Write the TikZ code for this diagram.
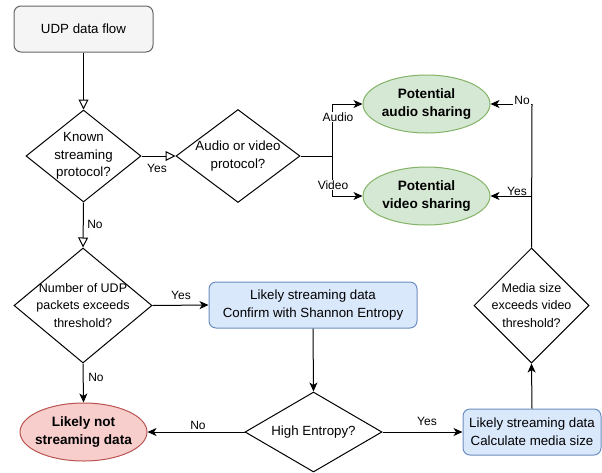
\documentclass[tikz,border=0pt]{standalone}
\usepackage{fontspec}
\setmainfont{Liberation Sans}
\usetikzlibrary{arrows.meta,shapes.geometric}
\definecolor{gfill}{HTML}{D5E8D4}\definecolor{gline}{HTML}{82B366}
\definecolor{bfill}{HTML}{DAE8FC}\definecolor{bline}{HTML}{6C8EBF}
\definecolor{rfill}{HTML}{F8CECC}\definecolor{rline}{HTML}{B85450}
\definecolor{sfill}{HTML}{F5F5F5}\definecolor{sline}{HTML}{666666}
\tikzset{
  txt/.style={font=\fontsize{13.3}{17.6}\selectfont, align=center, inner sep=0},
  stxt/.style={font=\fontsize{12.5}{17.5}\selectfont, align=center, inner sep=0},
  btxt/.style={font=\fontsize{13.6}{18.3}\selectfont\bfseries, align=center, inner sep=0},
  elab/.style={font=\fontsize{12}{14}\selectfont, inner sep=1pt, fill=white},
  dia/.style={draw, diamond, inner sep=0, line width=1pt},
  ell/.style={draw, ellipse, inner sep=0, line width=1pt},
  bbox/.style={draw=bline, fill=bfill, rounded corners=7pt, line width=1pt, minimum width=208pt, minimum height=46pt},
  conn/.style={line width=1pt, -{Stealth[length=9pt,width=8pt,inset=2.5pt]}},
  oconn/.style={line width=1pt, -{Triangle[open,length=10pt,width=10pt]}},
  plain/.style={line width=1pt},
}
\begin{document}
\begin{tikzpicture}[x=1pt,y=-1pt]
\useasboundingbox (0,0) rectangle (602,472);
% nodes
\node[draw=sline, fill=sfill, rounded corners=7pt, line width=1pt, minimum width=139pt, minimum height=46pt] (start) at (83.5,29) {};
\node[txt] at (start) {UDP data flow};

\node[dia, minimum width=115pt, minimum height=92pt] (d1) at (83.5,156) {};
\node[txt] at (d1) {Known\\streaming\\protocol?};

\node[dia, minimum width=124pt, minimum height=93pt] (d2) at (238,156) {};
\node[txt] at (d2) {Audio or video\\protocol?};

\node[ell, draw=gline, fill=gfill, minimum width=127pt, minimum height=58pt] (ea) at (426.5,104) {};
\node[btxt] at (ea) {Potential\\audio sharing};

\node[ell, draw=gline, fill=gfill, minimum width=127pt, minimum height=58pt] (ev) at (426.5,196) {};
\node[btxt] at (ev) {Potential\\video sharing};

\node[dia, minimum width=138pt, minimum height=115pt] (d4) at (83,305.5) {};
\node[stxt] at (d4) {Number of UDP\\packets exceeds\\threshold?};

\node[bbox] (b1) at (313,305) {};
\node[txt] at (b1) {Likely streaming data\\Confirm with Shannon Entropy};

\node[ell, draw=rline, fill=rfill, minimum width=127pt, minimum height=58pt] (er) at (83.5,432) {};
\node[btxt] at (er) {Likely not\\streaming data};

\node[dia, minimum width=137pt, minimum height=80pt] (d5) at (313.5,432) {};
\node[txt] at (d5) {High Entropy?};

\node[draw=bline, fill=bfill, rounded corners=7pt, line width=1pt, minimum width=138pt, minimum height=46pt] (b2) at (532,432) {};
\node[txt] at (b2) {Likely streaming data\\Calculate media size};

\node[dia, minimum width=115pt, minimum height=115pt] (d3) at (531.5,305.5) {};
\node[stxt] at (d3) {Media size\\exceeds video\\threshold?};

% connectors
\draw[oconn] (start.south) -- (d1.north);
\draw[oconn] (d1.east) -- (d2.west);
\node[elab, fill=none] at (157,168) {Yes};
\draw[oconn] (d1.south) -- (d4.north);
\node[elab, fill=none] at (95,224) {No};

\coordinate (j1) at (332,156);
\coordinate (ja) at (332,104);
\coordinate (jv) at (332,196);
\draw[plain] (d2.east) -- (j1);
\draw[conn] (j1) -- (ja) -- (ea.west);
\draw[conn] (j1) -- (jv) -- (ev.west);
\node[elab] at (338,117) {Audio};
\node[elab] at (333,185) {Video};

\draw[conn] (d4.east) -- (b1.west);
\node[elab, fill=none] at (181,295) {Yes};
\draw[conn] (d4.south) -- (er.north);
\node[elab, fill=none] at (96,377) {No};

\draw[conn] (b1.south) -- (d5.north);
\draw[conn] (d5.west) -- (er.east);
\node[elab, fill=none] at (198,425) {No};
\draw[conn] (d5.east) -- (b2.west);
\node[elab, fill=none] at (427,421) {Yes};

\draw[conn] (b2.north) -- (d3.north |- d3.south);

\coordinate (rt) at (532,104);
\coordinate (rv) at (532,196);
\draw[plain] (d3.north) -- (rt);
\draw[conn] (rt) -- (ea.east);
\draw[conn] (rv) -- (ev.east);
\node[elab] at (522,100) {No};
\node[elab] at (517,191) {Yes};
\end{tikzpicture}
\end{document}
